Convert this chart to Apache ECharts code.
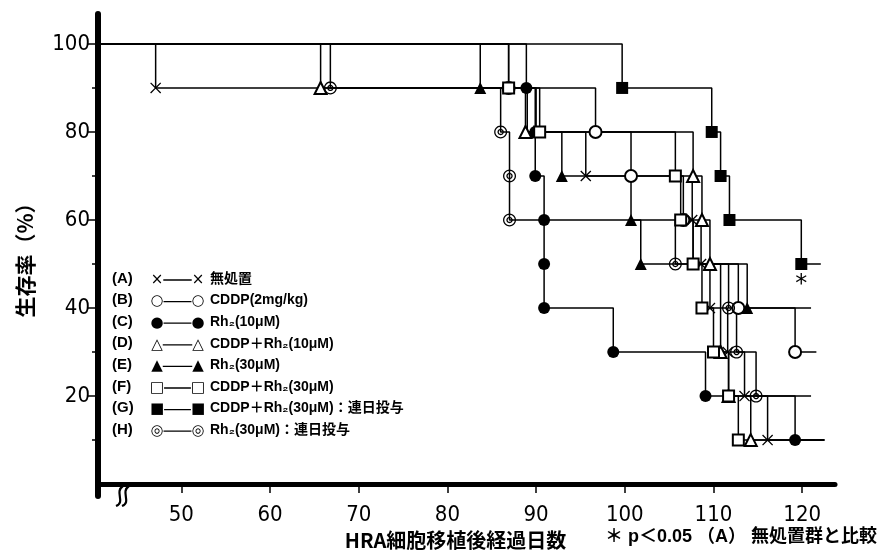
<!DOCTYPE html>
<html><head><meta charset="utf-8">
<script src="https://cdn.jsdelivr.net/npm/echarts@6/dist/echarts.min.js"></script>
<style>html,body{margin:0;padding:0;background:#fff}#c{width:880px;height:551px}</style>
</head><body><div id="c"></div>
<script>
// ---- data ----
const xMin = 40.6, xMax = 123.7, yMin = -2.7, yMax = 106.8;
const xTicks = [50, 60, 70, 80, 90, 100, 110, 120];
const yLabels = [20, 40, 60, 80, 100];
const yMinor = [10, 30, 50, 70, 90];

const daysA = [40.6, 47.1, 89.0, 95.6, 107.6, 108.6, 109.6, 111.6, 113.5, 116.1, 122.5];
const survA = [100, 90, 80, 70, 60, 50, 40, 30, 20, 10, 10];
const hideA = [2];

const daysB = [40.6, 86.9, 96.7, 100.7, 106.6, 107.7, 112.8, 119.2, 121.6];
const survB = [100, 90, 80, 70, 60, 50, 40, 30, 30];
const hideB = [5];

const daysC = [40.6, 88.9, 89.9, 89.9, 90.9, 90.9, 90.9, 98.7, 109.1, 119.2, 122.5];
const survC = [100, 90, 80, 70, 60, 50, 40, 30, 20, 10, 10];
const hideC = [];

const daysD = [40.6, 65.7, 88.8, 107.7, 108.7, 109.6, 110.8, 111.7, 114.2, 122.5];
const survD = [100, 90, 80, 70, 60, 50, 30, 20, 10, 10];
const hideD = [];

const daysE = [40.6, 83.7, 90.0, 92.9, 100.7, 101.8, 113.8, 121.0];
const survE = [100, 90, 80, 70, 60, 50, 40, 40];
const hideE = [];

const daysF = [40.6, 86.9, 90.4, 105.7, 106.3, 107.7, 108.7, 110.0, 111.7, 112.8, 122.5];
const survF = [100, 90, 80, 70, 60, 50, 40, 30, 20, 10, 10];
const hideF = [];

const daysG = [40.6, 99.7, 109.8, 110.8, 111.8, 119.9, 122.1];
const survG = [100, 90, 80, 70, 60, 50, 50];
const hideG = [];

const daysH = [40.6, 66.8, 86.0, 87.0, 87.0, 105.7, 111.7, 112.6, 114.8, 121.0];
const survH = [100, 90, 80, 70, 60, 50, 40, 30, 20, 20];
const hideH = [];

const groupIds = ['(A)', '(B)', '(C)', '(D)', '(E)', '(F)', '(G)', '(H)'];
const groupNames = ['無処置', 'CDDP(2mg/kg)', 'Rh₂(10μM)', 'CDDP＋Rh₂(10μM)', 'Rh₂(30μM)',
  'CDDP＋Rh₂(30μM)', 'CDDP＋Rh₂(30μM)：連日投与', 'Rh₂(30μM)：連日投与'];
const legendGlyphs = ['×', '○', '●', '△', '▲', '□', '■', '◎'];
const yTitle = '生存率（%）';
const xTitle = 'HRA細胞移植後経過日数';
const footnote = '＊ p＜0.05 （A） 無処置群と比較';
const sigMark = '*';

// ---- symbols ----
function circ(r, rev) {
  const n = 28, pts = [];
  for (let i = 0; i < n; i++) {
    const a = (rev ? -1 : 1) * i / n * Math.PI * 2;
    pts.push((r * Math.cos(a)).toFixed(2) + ' ' + (r * Math.sin(a)).toFixed(2));
  }
  return 'M' + pts.join(' L') + ' Z ';
}
const dblCircle = 'path://' + circ(7, false) + circ(5.6, true) + circ(3.4, false) + circ(2.0, true);
const crossSym = 'path://M-6 -5 L-5 -6 L0 -1 L5 -6 L6 -5 L1 0 L6 5 L5 6 L0 1 L-5 6 L-6 5 L-1 0 Z';

const black = '#000';
function mk(name, days, surv, hide, symbol, size, itemStyle, lastLabel) {
  const data = days.map((d, i) => {
    const o = { value: [d, surv[i]] };
    if (i === 0 || i === days.length - 1 || hide.includes(i)) o.symbol = 'none';
    return o;
  });
  if (lastLabel) {
    const it = data[data.length - 2];
    it.label = { show: true, formatter: lastLabel, position: 'bottom', distance: 3,
      fontSize: 24, color: black, fontFamily: 'DejaVu Sans' };
  }
  return {
    name, type: 'line', step: 'end', data, symbol, symbolSize: size,
    showAllSymbol: true, animation: false, silent: true,
    lineStyle: { color: black, width: 1.5 },
    itemStyle: Object.assign({ color: black, borderColor: black }, itemStyle),
    z: 3
  };
}

const series = [
  mk('A', daysA, survA, hideA, crossSym, 11, { borderWidth: 0 }),
  mk('B', daysB, survB, hideB, 'emptyCircle', 12, { borderWidth: 1.3 }),
  mk('C', daysC, survC, hideC, 'circle', 12, { borderWidth: 0 }),
  mk('D', daysD, survD, hideD, 'emptyTriangle', 12, { borderWidth: 1.3 }),
  mk('E', daysE, survE, hideE, 'triangle', 12, { borderWidth: 0 }),
  mk('F', daysF, survF, hideF, 'emptyRect', 11, { borderWidth: 1.3 }),
  mk('G', daysG, survG, hideG, 'rect', 12, { borderWidth: 0 }, sigMark),
  mk('H', daysH, survH, hideH, dblCircle, 13, { borderWidth: 0 })
];

const numFont = "'Liberation Sans Narrow', 'DejaVu Sans Condensed', 'Liberation Sans', sans-serif";

// legend built as graphic text
const legendEls = [];
groupIds.forEach((id, i) => {
  const y = 280 + 21.6 * i;
  legendEls.push({ type: 'text', left: 112, top: y - 9,
    style: { text: id, font: "bold 15px 'Liberation Sans', sans-serif", fill: black } });
  legendEls.push({ type: 'line', shape: { x1: 158, y1: y, x2: 196, y2: y },
    style: { stroke: black, lineWidth: 1.3 } });
  [157, 198].forEach(cx => legendEls.push({ type: 'text', x: cx, y: y,
    style: { text: legendGlyphs[i], font: "15px 'DejaVu Sans', sans-serif", fill: black,
      align: 'center', verticalAlign: 'middle', backgroundColor: '#fff' } }));
  legendEls.push({ type: 'text', left: 210, top: y - 8,
    style: { text: groupNames[i], font: "bold 14px 'Liberation Sans', 'Noto Sans CJK JP', sans-serif", fill: black } });
});

const option = {
  backgroundColor: '#fff',
  animation: false,
  grid: { left: 98, right: 45, top: 14, bottom: 55, outerBoundsMode: 'none', containLabel: false },
  xAxis: {
    type: 'value', min: xMin, max: xMax,
    axisLine: { show: true, lineStyle: { color: black, width: 5 } },
    axisTick: { show: true, customValues: xTicks, length: 9, lineStyle: { color: black, width: 1.5 } },
    axisLabel: { customValues: xTicks, color: black, fontSize: 22, margin: 8, fontFamily: numFont },
    splitLine: { show: false },
    name: xTitle, nameLocation: 'middle', nameGap: 29,
    nameTextStyle: { color: black, fontSize: 20, fontWeight: 'bold', fontFamily: "'Noto Sans CJK JP', sans-serif", padding: [0, 22, 0, 0] }
  },
  yAxis: [{
    type: 'value', min: yMin, max: yMax,
    axisLine: { show: true, lineStyle: { color: black, width: 6 } },
    axisTick: { show: true, customValues: yLabels, length: 11, lineStyle: { color: black, width: 1.5 } },
    axisLabel: { customValues: yLabels, color: black, fontSize: 22, margin: 8, fontFamily: numFont },
    splitLine: { show: false },
    name: yTitle, nameLocation: 'middle', nameGap: 62, nameRotate: 90,
    nameTextStyle: { color: black, fontSize: 21, fontWeight: 'bold', fontFamily: "'Noto Sans CJK JP', sans-serif" }
  }, {
    type: 'value', min: yMin, max: yMax, position: 'left',
    axisLine: { show: false },
    axisTick: { show: true, customValues: yMinor, length: 6, lineStyle: { color: black, width: 1.5 } },
    axisLabel: { show: false }, splitLine: { show: false }
  }],
  series,
  graphic: [
    ...legendEls,
    { type: 'bezierCurve', shape: { x1: 116, y1: 506, cpx1: 126, cpy1: 502, cpx2: 114, cpy2: 492, x2: 123, y2: 486 },
      style: { stroke: black, lineWidth: 2.2, fill: null } },
    { type: 'bezierCurve', shape: { x1: 122, y1: 506, cpx1: 132, cpy1: 502, cpx2: 120, cpy2: 492, x2: 129, y2: 486 },
      style: { stroke: black, lineWidth: 2.2, fill: null } },
    { type: 'text', left: 605, top: 528,
      style: { text: footnote, font: "bold 18px 'Liberation Sans', 'Noto Sans CJK JP', sans-serif", fill: black } }
  ]
};

const chart = echarts.init(document.getElementById('c'), null, { renderer: 'canvas' });
chart.setOption(option);
</script>
</body></html>
